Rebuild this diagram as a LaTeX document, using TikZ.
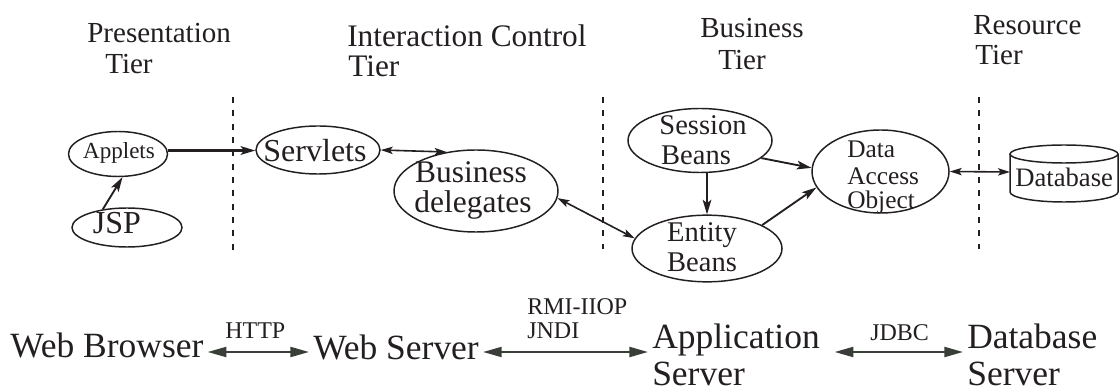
\documentclass[tikz,border=0pt]{standalone}
\usepackage{fontspec}
\setmainfont{Liberation Serif}
\usetikzlibrary{arrows.meta,shapes.geometric}
\definecolor{ink}{RGB}{35,31,32}
\definecolor{wire}{RGB}{58,62,56}

\begin{document}
\begin{tikzpicture}[x=0.75pt,y=-0.75pt,
  lbl/.style={text=ink, inner sep=0pt, anchor=base},
  lblw/.style={text=ink, inner sep=0pt, anchor=base west},
  tier/.style={lblw, font=\fontsize{21.8}{26}\selectfont},
  oval/.style={draw=ink, ellipse, line width=1.1pt, inner sep=0pt},
  sep/.style={draw=ink, line width=0.8pt, dash pattern=on 4.5pt off 5.5pt},
  link/.style={draw=ink, line width=1.4pt, -{Stealth[length=11pt,width=6.5pt,inset=2.5pt]}},
  dlink/.style={draw=ink, line width=1.2pt, {Stealth[length=9pt,width=5.5pt,inset=2pt]}-{Stealth[length=9pt,width=5.5pt,inset=2pt]}},
  big/.style={text=ink, inner ysep=0pt, inner xsep=3pt, anchor=base west, font=\fontsize{26.6}{30}\selectfont},
  proto/.style={lblw, font=\fontsize{18}{21}\selectfont},
  barrow/.style={draw=wire, line width=1.6pt, {Triangle[length=14pt,width=7.5pt]}-{Triangle[length=14pt,width=7.5pt]}}
]
\useasboundingbox (0,0) rectangle (1119,391);

% tier headings
\node[tier] (tp1) at (87,43) {Presentation};
\node[tier] (tp2) at (105,74) {Tier};
\node[tier, font=\fontsize{23.5}{28}\selectfont] (ti1) at (347,47) {Interaction Control};
\node[tier, font=\fontsize{23.5}{28}\selectfont] (ti2) at (348,77) {Tier};
\node[tier] (tb1) at (700,38) {Business};
\node[tier] (tb2) at (718,70) {Tier};
\node[tier] (tr1) at (973,35) {Resource};
\node[tier] (tr2) at (975,65) {Tier};

% tier boundaries
\draw[sep] (233,97) -- (233,251);
\draw[sep] (603,97) -- (603,249);
\draw[sep] (979,97) -- (979,249);

% components
\node[oval, minimum width=74.25pt, minimum height=33.75pt] (app) at (118,154) {};
\node[oval, minimum width=82.5pt, minimum height=29.25pt] (jsp) at (127,227.5) {};
\node[oval, minimum width=93pt, minimum height=36pt] (serv) at (318,150) {};
\node[oval, minimum width=123pt, minimum height=61.5pt] (bd) at (476,191) {};
\node[oval, minimum width=108pt, minimum height=48pt] (ses) at (700,140.5) {};
\node[oval, minimum width=112.5pt, minimum height=50pt] (ent) at (707,248.5) {};
\node[oval, minimum width=102.75pt, minimum height=62.25pt] (dao) at (880.5,171.5) {};

\node[lbl, font=\fontsize{17.3}{20}\selectfont] (appT) at (119,159) {Applets};
\node[lbl, font=\fontsize{24}{28}\selectfont] (jspT) at (117,234) {JSP};
\node[lbl, font=\fontsize{24}{28}\selectfont] (servT) at (315,162) {Servlets};
\node[lbl, font=\fontsize{23.6}{28}\selectfont] (bdT1) at (471,183) {Business};
\node[lbl, font=\fontsize{23.6}{28}\selectfont] (bdT2) at (473,213) {delegates};
\node[lbl, font=\fontsize{21.4}{25}\selectfont] (sesT1) at (703,135) {Session};
\node[lbl, font=\fontsize{21.4}{25}\selectfont] (sesT2) at (696,165) {Beans};
\node[lbl, font=\fontsize{21.4}{25}\selectfont] (entT1) at (702,242) {Entity};
\node[lbl, font=\fontsize{21.4}{25}\selectfont] (entT2) at (702,272) {Beans};
\node[lblw, font=\fontsize{19}{22}\selectfont] (daoT1) at (847,158) {Data};
\node[lblw, font=\fontsize{19}{22}\selectfont] (daoT2) at (847,185) {Access};
\node[lblw, font=\fontsize{19}{22}\selectfont] (daoT3) at (847,209) {Object};

% database cylinder
\draw[draw=ink, line width=1.1pt] (1064,154) ellipse [x radius=40.5pt, y radius=6.75pt];
\draw[draw=ink, line width=1.1pt] (1010,154) -- (1010,192)
  arc[start angle=180, end angle=360, x radius=40.5pt, y radius=7.5pt] -- (1118,154);
\coordinate (dbL) at (1010,172);
\node[lblw, font=\fontsize{20}{24}\selectfont] (dbT) at (1015,187) {Database};

% component links
\draw[link] (jsp.143) -- (app.-79);
\draw[link, line width=1.6pt] (app.4) -- (app.4 -| serv.west);
\draw[dlink] (serv.east) -- (bd.127);
\draw[dlink] (bd.-5) -- (ent.172);
\draw[link] (ses.south -| ent.north) -- (ent.north);
\draw[link] (ses.-16) -- (dao.177);
\draw[link] (ent.23) -- (dao.194);
\draw[dlink] (dao.east) -- (dbL);

% physical tiers
\node[big] (wb) at (6,357) {Web Browser};
\node[big] (ws) at (309,359) {Web Server};
\node[big] (as) at (648,348) {Application};
\node[big] (as2) at (648,385) {Server};
\node[big] (ds) at (963,348) {Database};
\node[big] (ds2) at (963,385) {Server};

\node[proto] (http) at (225,338) {HTTP};
\node[proto] (rmi) at (527,315) {RMI-IIOP};
\node[proto] (jndi) at (527,338) {JNDI};
\node[proto] (jdbc) at (870,340) {JDBC};

\coordinate (row) at (0,352);
\draw[barrow] (wb.east |- row) -- (ws.west |- row);
\draw[barrow] (ws.east |- row) -- (as.west |- row);
\draw[barrow] ([xshift=8pt]as.east |- row) -- (ds.west |- row);
\end{tikzpicture}
\end{document}
